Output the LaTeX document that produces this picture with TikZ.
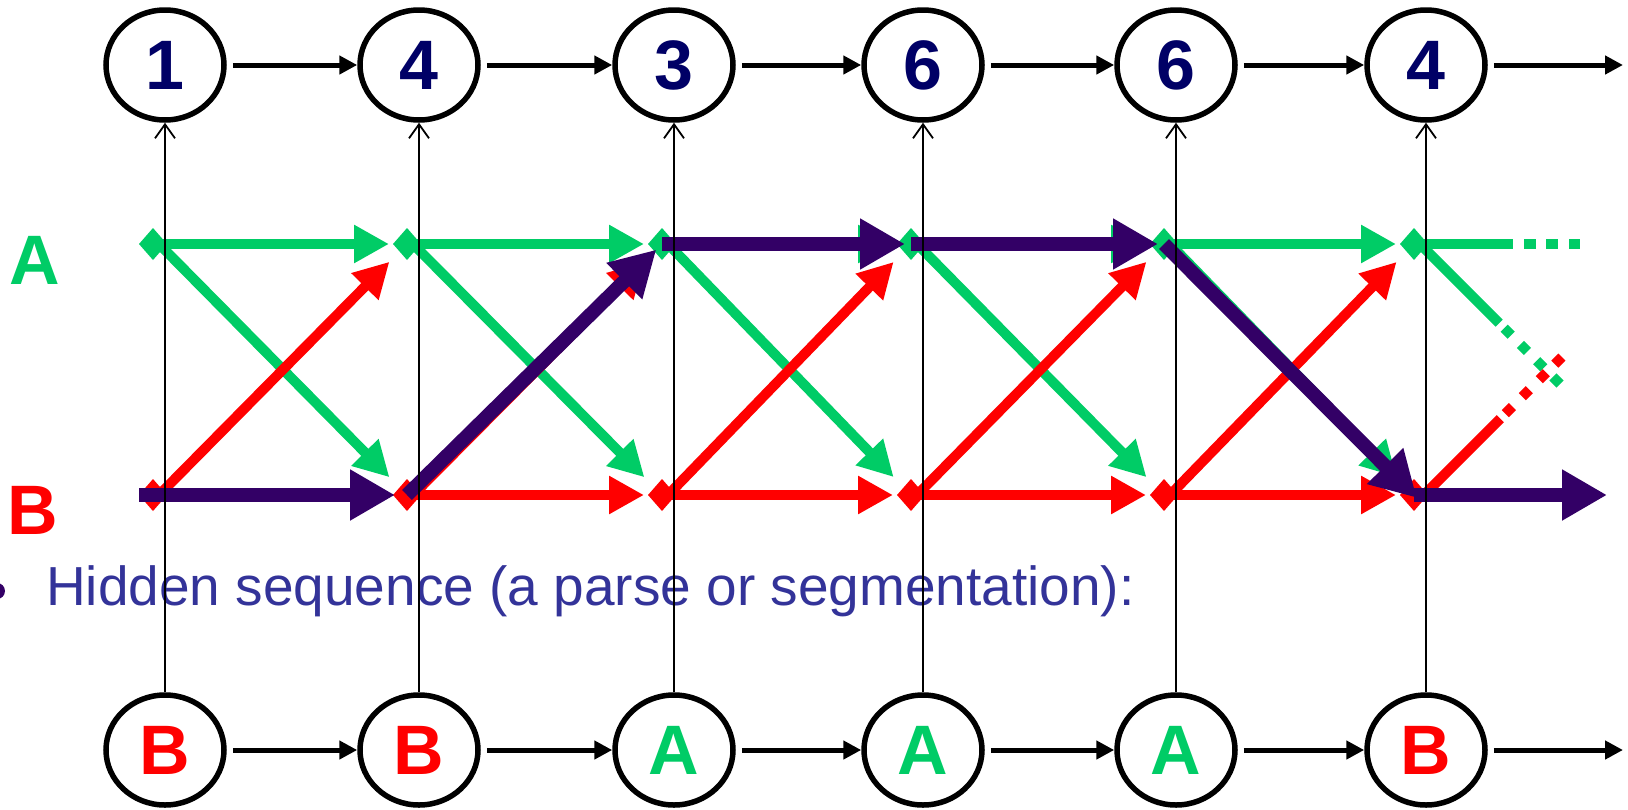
\documentclass[tikz,border=0pt]{standalone}
\usepackage{fontspec}
\setmainfont{Liberation Sans}
\usetikzlibrary{arrows.meta,shapes.geometric,calc}
\definecolor{gA}{RGB}{0,204,102}
\definecolor{rB}{RGB}{255,0,0}
\definecolor{pp}{RGB}{51,0,102}
\definecolor{navy}{RGB}{0,0,102}
\definecolor{tblue}{RGB}{51,51,153}
\begin{document}
\begin{tikzpicture}[x=1pt,y=-1pt,
  obs/.style={ellipse, draw=black, fill=white, line width=5.5pt, minimum width=118pt, minimum height=110pt, inner sep=0pt, font=\fontsize{70}{70}\selectfont\bfseries},
  chain/.style={line width=5pt, -{Triangle[length=18pt,width=18pt]}},
  emit/.style={line width=1.8pt, -{Straight Barb[length=14pt,width=20pt]}},
  garr/.style={gA, line width=10pt, -{Triangle[length=35pt,width=36pt]}},
  rarr/.style={rB, line width=10pt, -{Triangle[length=35pt,width=36pt]}},
  parr/.style={pp, line width=14pt, -{Triangle[length=45pt,width=48pt]}},
  lbl/.style={inner sep=0pt, font=\fontsize{70}{70}\selectfont\bfseries}
]
\useasboundingbox (0,0) rectangle (1628,809);

% trellis coordinates
\foreach \i/\x in {1/165,2/419,3/674,4/923,5/1176,6/1426}{
  \coordinate (sa\i) at (\x-12,244);
  \coordinate (sb\i) at (\x-12,495);
}

% green and red transitions
\foreach \i in {1,...,5}{
  \pgfmathtruncatemacro{\j}{\i+1}
  \draw[garr, shorten >=18pt] (sa\i) -- (sa\j);
  \draw[garr, shorten >=25pt] ($(sa\i)+(6,0)$) -- (sb\j);
}
\foreach \i in {1,...,5}{
  \pgfmathtruncatemacro{\j}{\i+1}
  \draw[rarr, shorten >=25pt] ($(sb\i)+(6,0)$) -- (sa\j);
  \draw[rarr, shorten >=18pt] (sb\i) -- (sb\j);
}
% continuations after the last column
\draw[gA, line width=10pt, dash pattern=on 99pt off 11pt on 12pt off 10pt on 12pt off 11pt on 11pt] (sa6) -- ++(166,0);
\draw[gA, line width=10pt, dash pattern=on 112pt off 7pt on 10pt off 13pt on 10pt off 13pt on 10pt off 13pt on 10pt] ($(sa6)+(6,0)$) -- ++(140,140);
\draw[rB, line width=10pt, dash pattern=on 108pt off 7pt on 10pt off 14pt on 10pt off 14pt on 10pt off 12pt on 10pt] ($(sb6)+(10,0)$) -- ++(138,-138);

% diamonds
\foreach \i in {1,...,6}{
  \fill[gA] (sa\i) +(-14,0) -- +(0,-16) -- +(14,0) -- +(0,16) -- cycle;
  \fill[rB] (sb\i) +(-14,0) -- +(0,-16) -- +(14,0) -- +(0,16) -- cycle;
}

% hidden path
\coordinate (pend) at (1607,495);
\draw[parr, shorten <=-14pt, shorten >=12pt] (sb1) -- (sb2);
\draw[parr, shorten >=8pt] (sb2) -- (sa3);
\draw[parr, shorten >=6pt] (sa3) -- (sa4);
\draw[parr, shorten >=6pt] (sa4) -- (sa5);
\draw[parr, shorten >=-4pt] (sa5) -- (sb6);
\draw[parr] (sb6) -- (pend);

% text
\fill[pp] (-3,591) circle (8);
\node[anchor=base west, inner sep=0pt, text=tblue, font=\fontsize{55}{60}\selectfont] (hid) at (46,605) {Hidden sequence (a parse or segmentation):};
\node[lbl, text=gA] (labA) at (35,260) {A};
\node[lbl, text=rB] (labB) at (33,510) {B};

% observation and state circles
\foreach \i/\x/\d/\s/\c in {1/165/1/B/rB,2/419/4/B/rB,3/674/3/A/gA,4/923/6/A/gA,5/1176/6/A/gA,6/1426/4/B/rB}{
  \node[obs, text=navy] (o\i) at (\x,65) {\raisebox{-3pt}{\d}};
  \node[obs, text=\c] (h\i) at (\x,750) {\s};
  \draw[emit] (h\i) -- (o\i);
}
\coordinate (oend) at (1623,65);
\coordinate (hend) at (1623,750);
\foreach \i in {1,...,5}{
  \pgfmathtruncatemacro{\j}{\i+1}
  \draw[chain, shorten <=6pt] (o\i) -- (o\j);
  \draw[chain, shorten <=6pt] (h\i) -- (h\j);
}
\draw[chain, shorten <=6pt] (o6) -- (oend);
\draw[chain, shorten <=6pt] (h6) -- (hend);
\end{tikzpicture}
\end{document}
